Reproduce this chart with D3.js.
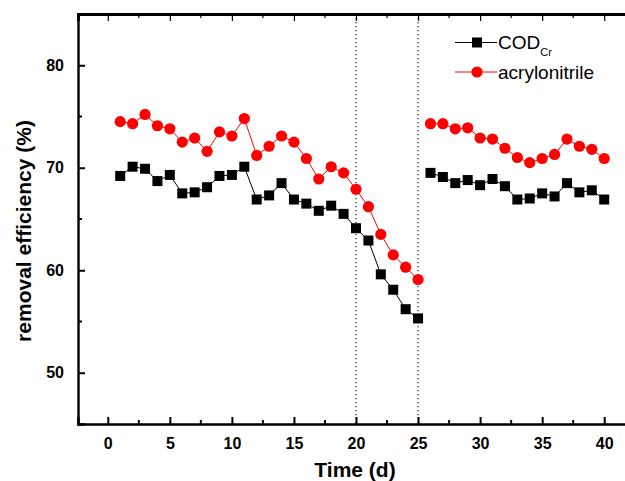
<!DOCTYPE html>
<html>
<head>
<meta charset="utf-8">
<script src="https://cdn.jsdelivr.net/npm/d3@7"></script>
<style>
  body { margin: 0; background: #fff; }
  svg { display: block; font-family: Arial, "Liberation Sans", sans-serif; }
</style>
</head>
<body>
<svg id="chart" width="625" height="481"></svg>
<script>
// data
const days = d3.range(1, 41);
const codCr = [69.2, 70.1, 69.9, 68.7, 69.3, 67.5, 67.6, 68.1, 69.2, 69.3,
               70.1, 66.9, 67.3, 68.5, 66.9, 66.5, 65.8, 66.3, 65.5, 64.1,
               62.9, 59.6, 58.1, 56.2, 55.3, 69.5, 69.1, 68.5, 68.8, 68.3,
               68.9, 68.2, 66.9, 67.0, 67.5, 67.2, 68.5, 67.6, 67.8, 66.9];
const acrylonitrile = [74.5, 74.3, 75.2, 74.1, 73.8, 72.5, 72.9, 71.6, 73.5, 73.1,
                       74.8, 71.2, 72.1, 73.1, 72.5, 70.9, 68.9, 70.1, 69.5, 67.9,
                       66.2, 63.5, 61.5, 60.3, 59.1, 74.3, 74.3, 73.8, 73.9, 72.9,
                       72.8, 71.9, 71.0, 70.5, 70.9, 71.3, 72.8, 72.1, 71.8, 70.9];
const breakDays = [20, 25];   // dotted separators
const xTicks = [0, 5, 10, 15, 20, 25, 30, 35, 40];
const yTicks = [50, 60, 70, 80];

const svg = d3.select("#chart");
const x = d3.scaleLinear().domain([-2.4, 42.4]).range([78, 634]);
const y = d3.scaleLinear().domain([45, 85]).range([424, 14]);

// gaps between the two runs (day 25 -> 26 is not joined)
function segments(vals) {
    const pts = days.map((d, i) => ({d: d, v: vals[i]}));
    return [pts.filter(p => p.d <= 25), pts.filter(p => p.d >= 26)];
}

// dotted lines
svg.selectAll(".sep").data(breakDays).enter().append("line")
    .attr("x1", d => x(d)).attr("x2", d => x(d))
    .attr("y1", y(85)).attr("y2", y(45))
    .attr("stroke", "#333").attr("stroke-width", 1.3)
    .attr("stroke-dasharray", "1.3,2.7");

const line = d3.line().x(p => x(p.d)).y(p => y(p.v));

function drawSeries(vals, color, shape) {
    const g = svg.append("g");
    g.selectAll("path").data(segments(vals)).enter().append("path")
        .attr("d", line).attr("fill", "none")
        .attr("stroke", color).attr("stroke-width", 1);
    const pts = days.map((d, i) => ({d: d, v: vals[i]}));
    if (shape === "square") {
        g.selectAll("rect").data(pts).enter().append("rect")
            .attr("x", p => x(p.d) - 5).attr("y", p => y(p.v) - 5)
            .attr("width", 10).attr("height", 10).attr("fill", color);
    } else {
        g.selectAll("circle").data(pts).enter().append("circle")
            .attr("cx", p => x(p.d)).attr("cy", p => y(p.v))
            .attr("r", 5.6).attr("fill", color);
    }
}
drawSeries(codCr, "#000", "square");
drawSeries(acrylonitrile, "#ff0000", "circle");

// axes
const minorX = d3.range(-2.5, 43, 2.5).filter(v => v % 5 !== 0 && v > -2.4);
const minorY = [55, 65, 75];

const gBottom = svg.append("g").attr("transform", `translate(0,${y(45)})`);
gBottom.call(d3.axisBottom(x).tickValues(xTicks).tickSize(-7).tickPadding(14).tickFormat(d3.format("d")));
gBottom.selectAll(".mb").data(minorX).enter().append("line")
    .attr("x1", d => x(d)).attr("x2", d => x(d)).attr("y1", 0).attr("y2", -4)
    .attr("stroke", "#000").attr("stroke-width", 2);

const gTop = svg.append("g").attr("transform", `translate(0,${y(85)})`);
gTop.call(d3.axisTop(x).tickValues(xTicks).tickSize(-7).tickFormat(""));
gTop.selectAll(".mt").data(minorX).enter().append("line")
    .attr("x1", d => x(d)).attr("x2", d => x(d)).attr("y1", 0).attr("y2", 4)
    .attr("stroke", "#000").attr("stroke-width", 1.2);

const gLeft = svg.append("g").attr("transform", `translate(${x(-2.4)},0)`);
gLeft.call(d3.axisLeft(y).tickValues(yTicks).tickSize(-7).tickPadding(14));
gLeft.selectAll(".my").data(minorY).enter().append("line")
    .attr("y1", d => y(d)).attr("y2", d => y(d)).attr("x1", 0).attr("x2", 4)
    .attr("stroke", "#000").attr("stroke-width", 2);

svg.selectAll(".domain").attr("stroke", "#000").attr("stroke-width", 2.4);
gBottom.selectAll(".tick line").attr("stroke", "#000").attr("stroke-width", 2);
gLeft.selectAll(".tick line").attr("stroke", "#000").attr("stroke-width", 2);
gTop.selectAll(".tick line").attr("stroke", "#000").attr("stroke-width", 1.2);
gTop.select(".domain").attr("stroke-width", 2.8);
svg.selectAll(".tick text")
    .attr("font-family", "Arial, 'Liberation Sans', sans-serif")
    .attr("font-size", 16).attr("font-weight", "bold").attr("fill", "#000");

// titles
svg.append("text").attr("x", 355).attr("y", 477)
    .attr("text-anchor", "middle").attr("font-size", 21).attr("font-weight", "bold")
    .text("Time (d)");
svg.append("text").attr("transform", "translate(31,231) rotate(-90)")
    .attr("text-anchor", "middle").attr("font-size", 21).attr("font-weight", "bold")
    .text("removal efficiency (%)");

// legend
const legend = svg.append("g");
const legItems = [
    {label: "COD", sub: "Cr", color: "#000", shape: "square", yy: 42.5},
    {label: "acrylonitrile", sub: null, color: "#ff0000", shape: "circle", yy: 72}
];
legItems.forEach(it => {
    legend.append("line").attr("x1", 455).attr("x2", 497)
        .attr("y1", it.yy).attr("y2", it.yy)
        .attr("stroke", it.color).attr("stroke-width", 1);
    if (it.shape === "square") {
        legend.append("rect").attr("x", 472).attr("y", it.yy - 5)
            .attr("width", 10).attr("height", 10).attr("fill", it.color);
    } else {
        legend.append("circle").attr("cx", 477).attr("cy", it.yy)
            .attr("r", 5.6).attr("fill", it.color);
    }
    const t = legend.append("text").attr("x", 498).attr("y", it.yy + 6.5)
        .attr("font-size", 19).attr("fill", "#000").text(it.label);
    if (it.sub) {
        t.append("tspan").attr("dy", 7).attr("font-size", 11).text(it.sub);
    }
});
</script>
</body>
</html>
